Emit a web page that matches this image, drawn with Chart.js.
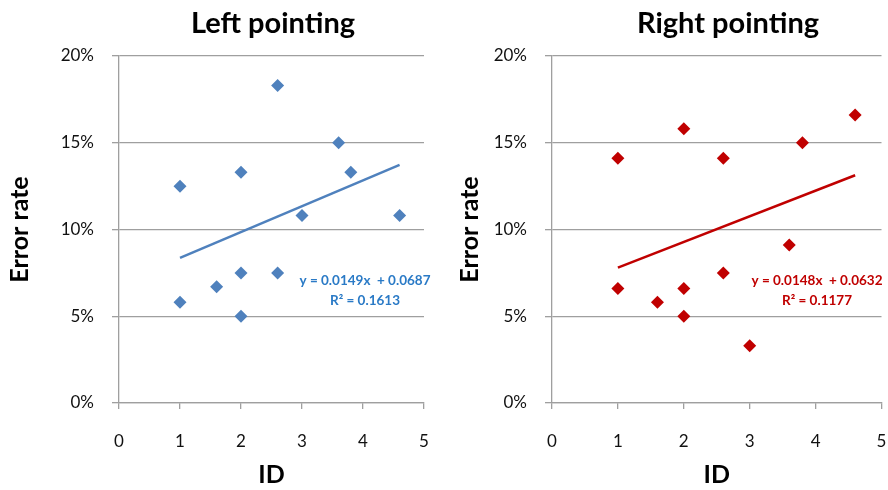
<!DOCTYPE html>
<html>
<head>
<meta charset="utf-8">
<title>Error rate by ID</title>
<script src="https://cdn.jsdelivr.net/npm/chart.js@4.4.1/dist/chart.umd.min.js"></script>
<style>
  body { margin: 0; background: #fff; }
  .panel { position: absolute; top: 0; width: 444px; height: 490px; }
  #leftPanel { left: 0; }
  #rightPanel { left: 444px; }
</style>
</head>
<body>
<div class="panel" id="leftPanel"><canvas id="leftChart" width="444" height="490"></canvas></div>
<div class="panel" id="rightPanel"><canvas id="rightChart" width="444" height="490"></canvas></div>
<script>
// left pointing
const leftIds = [1, 1, 1.6, 2, 2, 2, 2.6, 2.6, 3, 3.6, 3.8, 4.6];
const leftErrorRates = [0.125, 0.058, 0.067, 0.133, 0.075, 0.05, 0.183, 0.075, 0.108, 0.15, 0.133, 0.108];
const leftFit = [0.0149, 0.0687]; // slope, intercept
const leftR2 = 0.1613;

// right pointing
const rightIds = [1, 1, 1.6, 2, 2, 2, 2.6, 2.6, 3, 3.6, 3.8, 4.6];
const rightErrorRates = [0.141, 0.066, 0.058, 0.158, 0.066, 0.05, 0.141, 0.075, 0.033, 0.091, 0.15, 0.166];
const rightFit = [0.0148, 0.0632];
const rightR2 = 0.1177;

const xTicks = [0, 1, 2, 3, 4, 5];
const yTicks = [0, 0.05, 0.10, 0.15, 0.20];

const gridColor = "#9f9f9f";
const fontFamily = "Lato, 'Open Sans', sans-serif";

// chart title + trendline equation, drawn on top of the chart
const panelText = {
  id: "panelText",
  afterDraw(chart, args, o) {
    const ctx = chart.ctx;
    ctx.save();
    ctx.textAlign = "center";
    ctx.textBaseline = "alphabetic";
    ctx.fillStyle = "#000";
    ctx.font = "bold 29px " + fontFamily;
    ctx.fillText(o.title, o.titleX, 33);
    ctx.fillStyle = o.color;
    ctx.font = "bold 13.5px " + fontFamily;
    ctx.fillText(o.equation, o.eqX, 285);
    ctx.fillText(o.r2, o.eqX, 305);
    ctx.restore();
  }
};

function drawPanel(canvasId, p) {
  const points = p.ids.map((x, i) => ({ x: x, y: p.rates[i] }));
  const x0 = Math.min(...p.ids);
  const x1 = Math.max(...p.ids);
  const fitLine = [
    { x: x0, y: p.fit[0] * x0 + p.fit[1] },
    { x: x1, y: p.fit[0] * x1 + p.fit[1] }
  ];

  const ctx = document.getElementById(canvasId).getContext("2d");
  return new Chart(ctx, {
    type: "scatter",
    data: {
      datasets: [
        {
          label: "Error rate",
          data: points,
          pointStyle: "rectRot",
          pointRadius: 6.5,
          backgroundColor: p.markerColor,
          borderColor: p.markerColor,
          borderWidth: 0,
          order: 1
        },
        {
          type: "line",
          label: "Linear fit",
          data: fitLine,
          borderColor: p.lineColor,
          borderWidth: 2.5,
          pointRadius: 0,
          fill: false,
          order: 2
        }
      ]
    },
    options: {
      responsive: false,
      animation: false,
      layout: { padding: { left: 0, right: p.padRight, top: 56, bottom: 0 } },
      plugins: {
        legend: { display: false },
        tooltip: { enabled: false },
        panelText: {
          title: p.title,
          titleX: p.titleX,
          eqX: p.eqX,
          color: p.textColor,
          equation: "y = " + p.fit[0].toFixed(4) + "x  + " + p.fit[1].toFixed(4),
          r2: "R\u00b2 = " + p.r2.toFixed(4)
        }
      },
      scales: {
        x: {
          type: "linear",
          min: xTicks[0],
          max: xTicks[xTicks.length - 1],
          afterBuildTicks: s => { s.ticks = xTicks.map(v => ({ value: v })); },
          afterFit: s => { s.height = 87; s.paddingLeft = 0; s.paddingRight = 0; },
          grid: { drawOnChartArea: false, drawTicks: true, tickLength: 6, color: gridColor, lineWidth: 1.3 },
          border: { color: gridColor, width: 1.3 },
          ticks: { padding: 22, color: "#111", font: { family: fontFamily, size: 17 } },
          title: {
            display: true,
            text: "ID",
            color: "#000",
            padding: { top: 0, bottom: 0 },
            font: { family: fontFamily, size: 25, weight: "bold" }
          }
        },
        y: {
          min: yTicks[0],
          max: yTicks[yTicks.length - 1],
          afterBuildTicks: s => { s.ticks = yTicks.map(v => ({ value: v })); },
          afterFit: s => { s.width = p.axisLeft; s.paddingTop = 0; s.paddingBottom = 0; },
          grid: { drawTicks: true, tickLength: 7, color: gridColor, lineWidth: 1.3 },
          border: { color: gridColor, width: 1.3 },
          ticks: {
            padding: 18,
            color: "#111",
            font: { family: fontFamily, size: 17 },
            callback: v => Math.round(v * 100) + "%"
          },
          title: {
            display: true,
            text: "Error rate",
            color: "#000",
            padding: { top: p.yTitlePad, bottom: 0 },
            font: { family: fontFamily, size: 25, weight: "bold" }
          }
        }
      }
    },
    plugins: [panelText]
  });
}

drawPanel("leftChart", {
  ids: leftIds,
  rates: leftErrorRates,
  fit: leftFit,
  r2: leftR2,
  title: "Left pointing",
  markerColor: "#4f81bd",
  lineColor: "#4f81bd",
  textColor: "#2a7ac6",
  axisLeft: 119,
  padRight: 20,
  yTitlePad: 5,
  titleX: 273,
  eqX: 365
});

drawPanel("rightChart", {
  ids: rightIds,
  rates: rightErrorRates,
  fit: rightFit,
  r2: rightR2,
  title: "Right pointing",
  markerColor: "#c00000",
  lineColor: "#c00000",
  textColor: "#c00000",
  axisLeft: 108,
  padRight: 5,
  yTitlePad: 11,
  titleX: 284,
  eqX: 373
});
</script>
</body>
</html>
